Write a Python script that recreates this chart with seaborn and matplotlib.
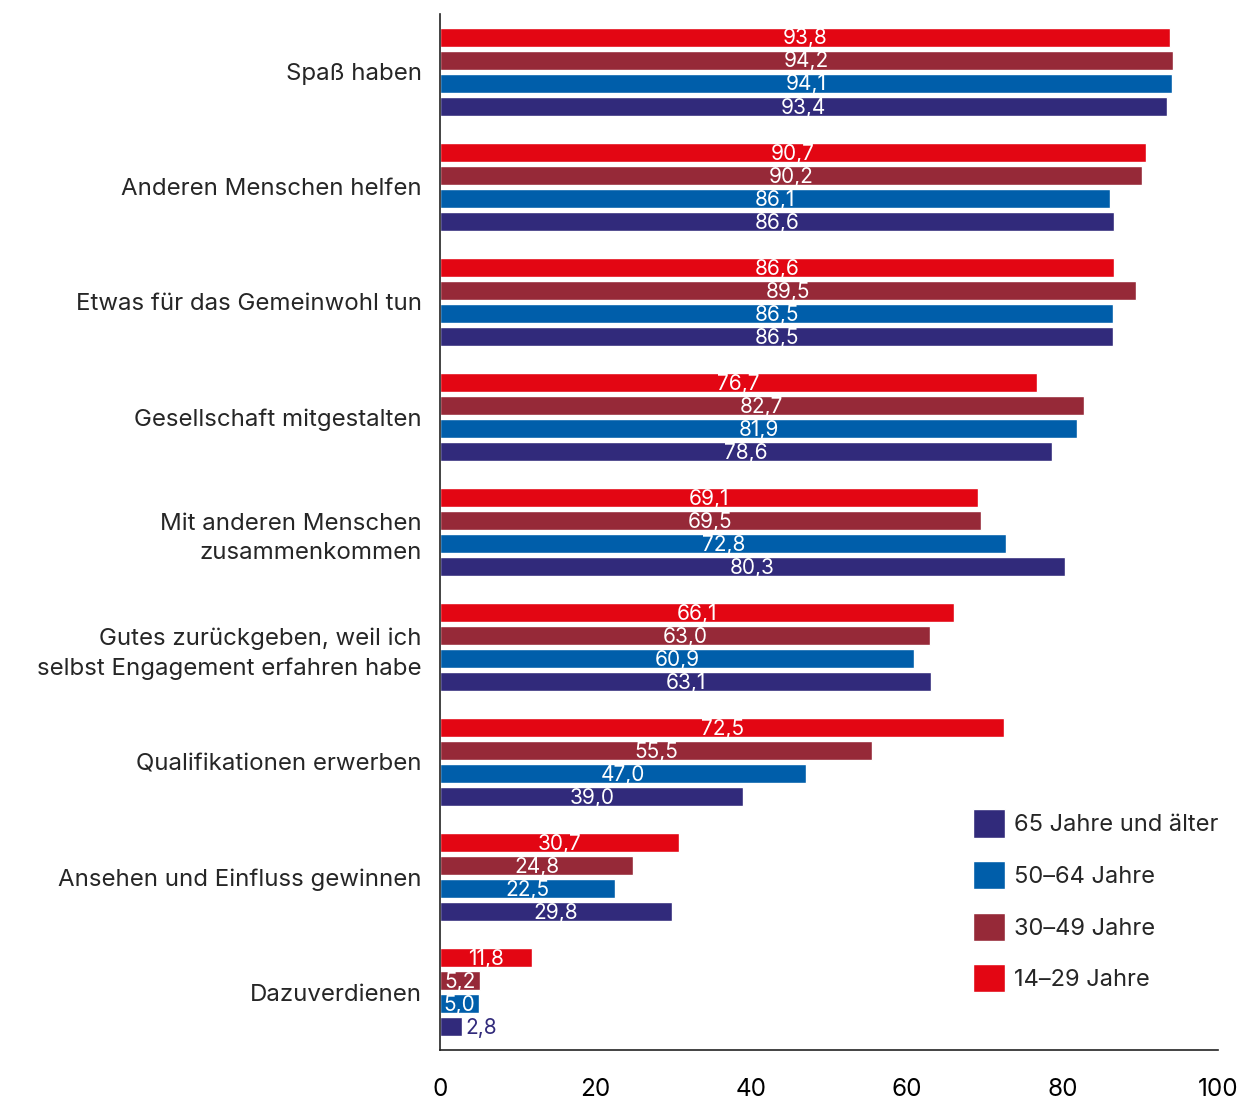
import matplotlib
matplotlib.use('Agg')
import matplotlib.pyplot as plt
import seaborn as sns
import pandas as pd
from matplotlib.patches import Patch

# ------------------------------------------------------------------
# data
# ------------------------------------------------------------------
categories = [
    'Spaß haben',
    'Anderen Menschen helfen',
    'Etwas für das Gemeinwohl tun',
    'Gesellschaft mitgestalten',
    'Mit anderen Menschen\nzusammenkommen',
    'Gutes zurückgeben, weil ich\nselbst Engagement erfahren habe',
    'Qualifikationen erwerben',
    'Ansehen und Einfluss gewinnen',
    'Dazuverdienen',
]
age_groups = ['14–29 Jahre', '30–49 Jahre', '50–64 Jahre', '65 Jahre und älter']

vals_14_29 = [93.8, 90.7, 86.6, 76.7, 69.1, 66.1, 72.5, 30.7, 11.8]
vals_30_49 = [94.2, 90.2, 89.5, 82.7, 69.5, 63.0, 55.5, 24.8, 5.2]
vals_50_64 = [94.1, 86.1, 86.5, 81.9, 72.8, 60.9, 47.0, 22.5, 5.0]
vals_65plus = [93.4, 86.6, 86.5, 78.6, 80.3, 63.1, 39.0, 29.8, 2.8]

colors = ['#E30613', '#962938', '#005EAA', '#312A7B']

df = pd.DataFrame({'Motiv': categories * 4,
                   'Gruppe': sum([[g] * len(categories) for g in age_groups], []),
                   'Wert': vals_14_29 + vals_30_49 + vals_50_64 + vals_65plus})

# ------------------------------------------------------------------
# plot
# ------------------------------------------------------------------
sns.set_theme(style='white')
plt.rcParams['font.family'] = ['Inter', 'DejaVu Sans']

fig = plt.figure(figsize=(12.43, 11), dpi=100)
ax = fig.add_axes([0.354, 0.0455, 0.626, 0.9415])

sns.barplot(data=df, y='Motiv', x='Wert', hue='Gruppe', order=categories,
            hue_order=age_groups, palette=colors, orient='h', width=0.8,
            gap=0.17, saturation=1, legend=False, ax=ax)

# value labels: centred in the bar, outside if the bar is too short
for cont, col in zip(ax.containers, colors):
    for rect in cont:
        w = rect.get_width()
        y = rect.get_y() + rect.get_height() / 2 + 0.01
        txt = f'{w:.1f}'.replace('.', ',')
        if w < 4:
            ax.text(w + 0.5, y, txt, ha='left', va='center', color=col, fontsize=15)
        else:
            ax.text(w / 2, y, txt, ha='center', va='center', color='white', fontsize=15)

ax.set_xlim(0, 100)
ax.set_xticks([0, 20, 40, 60, 80, 100])
ax.set_xlabel('')
ax.set_ylabel('')
ax.tick_params(axis='x', direction='in', length=16, width=1.2, pad=20,
               labelsize=17.5, colors='#222222', labelcolor='black')
ax.tick_params(axis='y', length=0, pad=13, labelsize=17.3)
for lbl in ax.get_yticklabels():
    lbl.set_linespacing(1.45)
for side in ['top', 'right']:
    ax.spines[side].set_visible(False)
for side in ['left', 'bottom']:
    ax.spines[side].set_color('#222222')
    ax.spines[side].set_linewidth(1.2)

handles = [Patch(facecolor=c) for c in colors[::-1]]
ax.legend(handles, age_groups[::-1], loc='lower right', bbox_to_anchor=(1.027, 0.035),
          frameon=False, fontsize=17, handlelength=1.35, handleheight=1.45,
          labelspacing=1.0, handletextpad=0.35)

plt.savefig('out.png', dpi=100)
